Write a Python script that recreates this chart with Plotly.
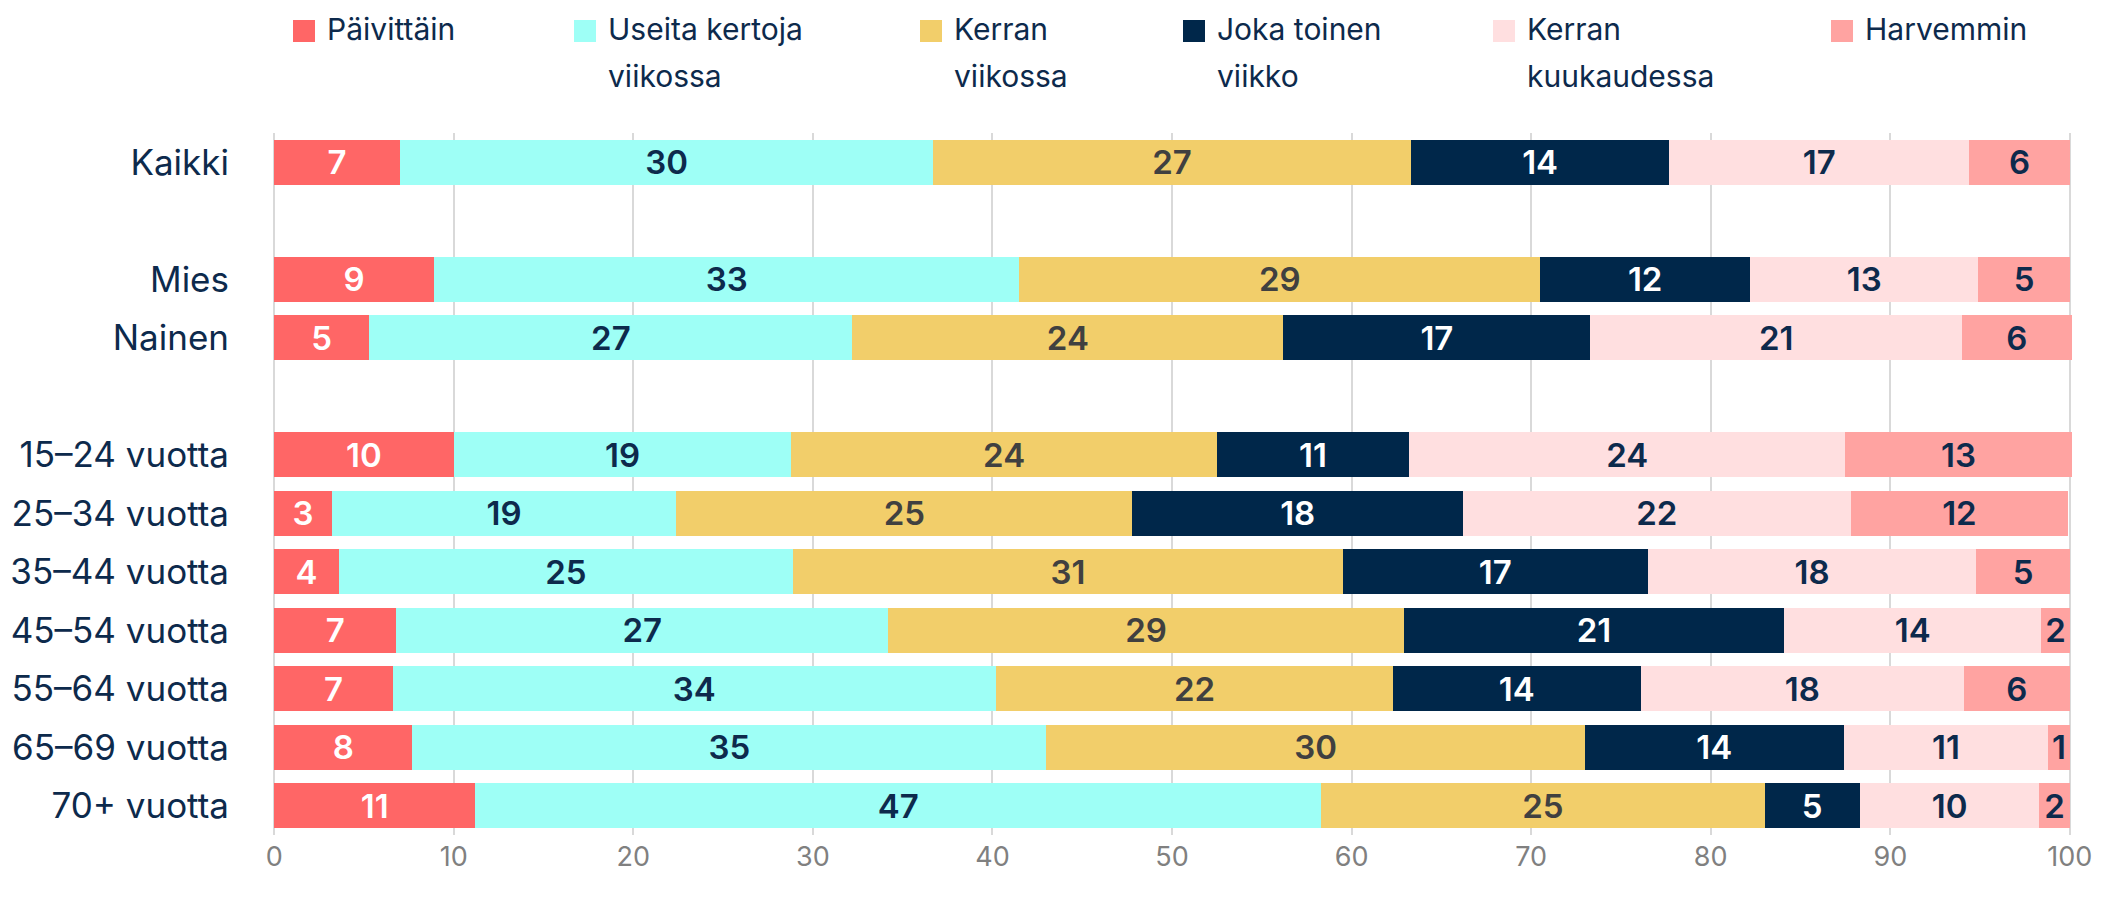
import plotly.graph_objects as go

# Categories (top to bottom); an empty row follows the groups in GAP_AFTER
categories = [
    "Kaikki", "Mies", "Nainen", "15–24 vuotta", "25–34 vuotta", "35–44 vuotta",
    "45–54 vuotta", "55–64 vuotta", "65–69 vuotta", "70+ vuotta",
]
GAP_AFTER = {"Kaikki", "Nainen"}

# Shares in percent
paivittain = [7.0, 8.9, 5.3, 10.0, 3.2, 3.6, 6.8, 6.6, 7.7, 11.2]
useita_kertoja = [29.7, 32.6, 26.9, 18.8, 19.2, 25.3, 27.4, 33.6, 35.3, 47.1]
kerran_viikossa = [26.6, 29.0, 24.0, 23.7, 25.4, 30.6, 28.7, 22.1, 30.0, 24.7]
joka_toinen = [14.4, 11.7, 17.1, 10.7, 18.4, 17.0, 21.2, 13.8, 14.4, 5.3]
kerran_kuukaudessa = [16.7, 12.7, 20.7, 24.3, 21.6, 18.3, 14.3, 18.0, 11.4, 10.0]
harvemmin = [5.6, 5.1, 6.1, 12.6, 12.1, 5.2, 1.6, 5.9, 1.2, 1.7]

series_names = [
    ["Päivittäin"],
    ["Useita kertoja", "viikossa"],
    ["Kerran", "viikossa"],
    ["Joka toinen", "viikko"],
    ["Kerran", "kuukaudessa"],
    ["Harvemmin"],
]
series_values = [paivittain, useita_kertoja, kerran_viikossa, joka_toinen,
                 kerran_kuukaudessa, harvemmin]
bar_colors = ["#FF6666", "#9EFFF6", "#F2CE6A", "#00274A", "#FFDFE0", "#FFA3A1"]
text_colors = ["#FFFFFF", "#0D2A4C", "#404040", "#FFFFFF", "#0D2A4C", "#0D2A4C"]

NAVY = "#0D2A4C"
FONT = "Inter, 'Noto Sans', sans-serif"

# the page body has an 8px margin, so the figure is made that much smaller
PAGE_OFF = 8
W, H = 2102 - PAGE_OFF, 901 - PAGE_OFF
ML, MR, MT, MB = 272 - PAGE_OFF, 30, 133 - PAGE_OFF, 66

# row positions with the blank separator rows
rows = []
r = 0
for c in categories:
    rows.append(r)
    r += 2 if c in GAP_AFTER else 1
n_rows = r

fig = go.Figure()
for names, vals, col, tcol in zip(series_names, series_values, bar_colors, text_colors):
    fig.add_trace(
        go.Bar(
            x=vals,
            y=rows,
            orientation="h",
            name=" ".join(names),
            marker=dict(color=col, line=dict(width=0)),
            width=0.77,
            texttemplate="%{x:.0f}",
            textposition="inside",
            insidetextanchor="middle",
            textangle=0,
            textfont=dict(family=FONT, size=33, color=tcol, weight=600),
            showlegend=False,
            hovertemplate="%{x:.1f}<extra></extra>",
        )
    )

# legend drawn by hand so the items sit where they do in the original
plot_w = W - ML - MR
plot_h = H - MT - MB
legend_x = [293, 574, 920, 1183, 1493, 1831]
line_y = [29, 76]


def px_x(px):
    # page pixel -> paper x
    return (px - PAGE_OFF - ML) / plot_w


def px_y(py):
    # page pixel -> paper y
    return 1 + (MT - (py - PAGE_OFF)) / plot_h


shapes = []
annotations = []
for lx, names, col in zip(legend_x, series_names, bar_colors):
    shapes.append(
        dict(type="rect", xref="paper", yref="paper",
             x0=px_x(lx), x1=px_x(lx + 22), y0=px_y(42), y1=px_y(20),
             fillcolor=col, line=dict(width=0))
    )
    for i, txt in enumerate(names):
        annotations.append(
            dict(text=txt, xref="paper", yref="paper", x=px_x(lx + 32), y=px_y(line_y[i]),
                 xanchor="left", yanchor="middle", showarrow=False,
                 font=dict(family=FONT, size=30, color=NAVY))
        )

fig.update_layout(
    barmode="stack",
    width=W,
    height=H,
    margin=dict(l=ML, r=MR, t=MT, b=MB, autoexpand=False),
    plot_bgcolor="white",
    paper_bgcolor="white",
    font=dict(family=FONT, color=NAVY),
    uniformtext=dict(mode="show", minsize=33),
    shapes=shapes,
    annotations=annotations,
    xaxis=dict(
        range=[-0.12, 100.12],
        tickvals=list(range(0, 101, 10)),
        showgrid=True,
        gridcolor="#D9D9D9",
        gridwidth=2,
        zeroline=False,
        showline=False,
        tickfont=dict(family=FONT, size=27, color="#808080"),
        ticklabelstandoff=3,
        automargin=False,
        fixedrange=True,
    ),
    yaxis=dict(
        range=[n_rows - 0.5, -0.5],
        tickvals=rows,
        ticktext=categories,
        showgrid=False,
        zeroline=False,
        showline=False,
        tickfont=dict(family=FONT, size=35, color=NAVY),
        ticklabelstandoff=42,
        automargin=False,
        fixedrange=True,
    ),
)

fig.write_html("out.html")
